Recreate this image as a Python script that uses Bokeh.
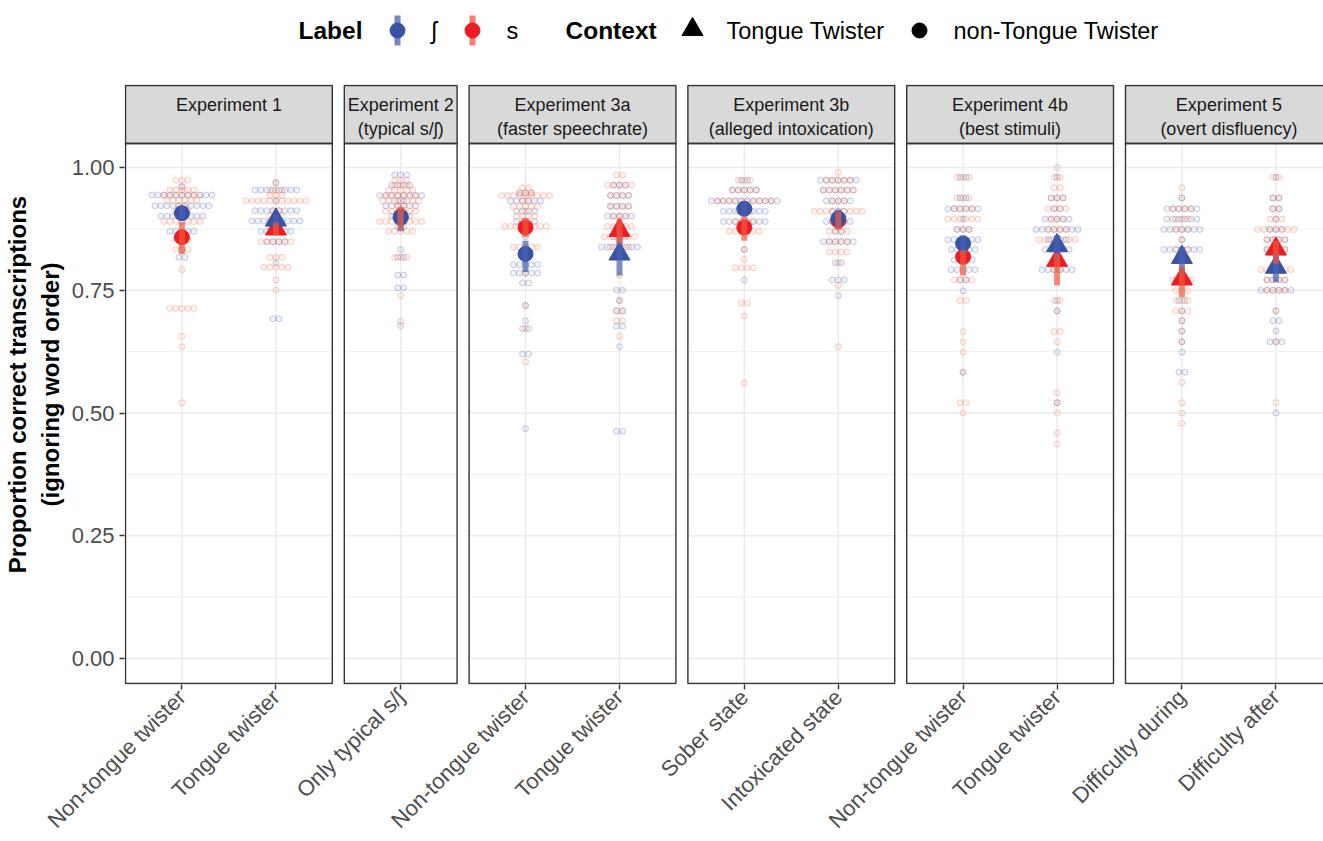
import numpy as np
from bokeh.plotting import figure
from bokeh.models import Range1d, FixedTicker, NumeralTickFormatter
from bokeh.layouts import column
from bokeh.embed import file_html
from bokeh.resources import INLINE
from bokeh.core.properties import value

FONT = "Liberation Sans"

# ---------------- data ----------------
PANELS = ["Experiment 1", "Experiment 2\n(typical s/ʃ)", "Experiment 3a\n(faster speechrate)",
          "Experiment 3b\n(alleged intoxication)", "Experiment 4b\n(best stimuli)",
          "Experiment 5\n(overt disfluency)"]
PANEL_CATS = [["Non-tongue twister", "Tongue twister"], ["Only typical s/ʃ"],
              ["Non-tongue twister", "Tongue twister"], ["Sober state", "Intoxicated state"],
              ["Non-tongue twister", "Tongue twister"], ["Difficulty during", "Difficulty after"]]
# context of each category: True = tongue twister (triangle), False = circle
PANEL_TT = [[False, True], [False], [False, True], [False, False], [False, True], [True, True]]

LABEL_NAMES = ["ʃ", "s"]
CONTEXT_NAMES = ["Tongue Twister", "non-Tongue Twister"]

# summary means and intervals, label ʃ
MEAN_SH = [[0.907, 0.893], [0.898], [0.824, 0.824], [0.916, 0.896], [0.845, 0.841], [0.817, 0.797]]
LO_SH = [[0.895, 0.880], [0.870], [0.787, 0.780], [0.900, 0.876], [0.825, 0.811], [0.784, 0.767]]
HI_SH = [[0.920, 0.905], [0.917], [0.851, 0.858], [0.930, 0.914], [0.862, 0.862], [0.838, 0.825]]
# label s
MEAN_S = [[0.858, 0.875], [0.900], [0.878, 0.872], [0.878, 0.892], [0.818, 0.811], [0.773, 0.834]]
LO_S = [[0.824, 0.862], [0.875], [0.858, 0.845], [0.851, 0.873], [0.780, 0.760], [0.736, 0.804]]
HI_S = [[0.889, 0.888], [0.920], [0.897, 0.895], [0.899, 0.910], [0.831, 0.825], [0.797, 0.851]]

# participant dots: (proportion, count ʃ, count s)
E1_NTT = [(0.974, 0, 3), (0.961, 1, 1), (0.954, 0, 5), (0.944, 11, 7), (0.933, 0, 6), (0.922, 10, 2),
          (0.912, 0, 3), (0.901, 8, 2), (0.890, 0, 7), (0.870, 5, 0), (0.854, 0, 3), (0.833, 1, 3),
          (0.817, 2, 0), (0.792, 0, 1), (0.713, 0, 5), (0.656, 0, 1), (0.635, 0, 1), (0.521, 0, 1)]
E1_TT = [(0.969, 1, 1), (0.954, 8, 3), (0.943, 0, 3), (0.932, 1, 11), (0.912, 8, 2), (0.901, 0, 3),
         (0.891, 9, 2), (0.870, 6, 2), (0.849, 4, 6), (0.817, 0, 3), (0.806, 1, 0), (0.797, 0, 5),
         (0.771, 0, 1), (0.750, 0, 1), (0.692, 2, 0)]
E2_TYP = [(0.985, 3, 0), (0.974, 0, 3), (0.964, 4, 3), (0.954, 0, 5), (0.943, 8, 6), (0.932, 2, 7),
          (0.922, 6, 2), (0.911, 0, 6), (0.901, 4, 2), (0.890, 2, 8), (0.880, 2, 0), (0.870, 0, 5),
          (0.833, 1, 0), (0.817, 2, 3), (0.781, 2, 0), (0.755, 2, 0), (0.739, 0, 1), (0.687, 0, 1),
          (0.678, 1, 0)]
E3A_NTT = [(0.959, 0, 2), (0.948, 3, 3), (0.943, 0, 9), (0.932, 6, 2), (0.921, 0, 5), (0.911, 4, 1),
           (0.901, 0, 4), (0.890, 4, 1), (0.880, 0, 8), (0.859, 1, 0), (0.838, 0, 5), (0.823, 2, 0),
           (0.802, 5, 0), (0.785, 5, 1), (0.765, 2, 0), (0.719, 1, 1), (0.688, 1, 0), (0.672, 2, 1),
           (0.620, 2, 0), (0.604, 0, 1), (0.468, 1, 0)]
E3A_TT = [(0.985, 0, 2), (0.964, 3, 5), (0.943, 4, 4), (0.921, 4, 4), (0.901, 5, 3), (0.880, 2, 5),
          (0.859, 3, 6), (0.838, 7, 4), (0.817, 2, 0), (0.780, 0, 1), (0.750, 2, 0), (0.729, 1, 1),
          (0.708, 2, 2), (0.688, 0, 2), (0.677, 2, 0), (0.656, 0, 1), (0.635, 1, 0), (0.463, 2, 0)]
E3B_SOB = [(0.974, 2, 3), (0.954, 5, 5), (0.932, 12, 10), (0.911, 8, 3), (0.890, 8, 4), (0.870, 2, 6),
           (0.833, 1, 1), (0.813, 0, 1), (0.796, 0, 4), (0.771, 1, 0), (0.724, 0, 2), (0.698, 0, 1),
           (0.561, 0, 1)]
E3B_INT = [(0.990, 0, 1), (0.974, 7, 5), (0.954, 6, 6), (0.932, 5, 3), (0.911, 3, 9), (0.890, 5, 3),
           (0.870, 2, 4), (0.849, 6, 4), (0.828, 0, 4), (0.806, 2, 1), (0.771, 3, 0), (0.760, 0, 1),
           (0.739, 1, 0), (0.635, 0, 1)]
E4B_NTT = [(0.980, 2, 3), (0.938, 2, 3), (0.916, 6, 4), (0.895, 1, 6), (0.874, 3, 3), (0.853, 6, 2),
           (0.833, 5, 1), (0.812, 4, 1), (0.792, 5, 0), (0.771, 2, 4), (0.749, 1, 0), (0.729, 0, 2),
           (0.666, 0, 1), (0.645, 0, 1), (0.624, 0, 1), (0.583, 1, 1), (0.521, 0, 2), (0.500, 0, 1)]
E4B_TT = [(1.000, 0, 1), (0.980, 1, 2), (0.959, 0, 2), (0.938, 3, 3), (0.916, 2, 4), (0.895, 5, 3),
          (0.874, 8, 4), (0.853, 4, 7), (0.833, 5, 0), (0.792, 6, 2), (0.729, 1, 2), (0.708, 1, 1),
          (0.666, 0, 2), (0.645, 0, 1), (0.624, 1, 0), (0.541, 0, 1), (0.521, 1, 1), (0.500, 0, 1),
          (0.459, 0, 1), (0.437, 0, 1)]
E5_DUR = [(0.959, 0, 1), (0.938, 1, 1), (0.916, 6, 4), (0.895, 6, 3), (0.874, 7, 3), (0.853, 1, 1),
          (0.833, 7, 3), (0.812, 0, 2), (0.792, 0, 1), (0.771, 3, 4), (0.749, 0, 3), (0.729, 2, 3),
          (0.708, 1, 3), (0.688, 1, 1), (0.667, 1, 1), (0.645, 1, 1), (0.624, 1, 0), (0.583, 2, 0),
          (0.562, 0, 1), (0.521, 0, 1), (0.500, 0, 1), (0.479, 0, 1)]
E5_AFT = [(0.980, 1, 2), (0.938, 2, 2), (0.916, 2, 2), (0.895, 1, 3), (0.874, 3, 7), (0.853, 4, 4),
          (0.833, 4, 4), (0.792, 2, 6), (0.771, 4, 4), (0.750, 6, 4), (0.708, 1, 1), (0.688, 2, 0),
          (0.667, 1, 0), (0.645, 3, 1), (0.521, 0, 1), (0.500, 1, 0)]
DOT_ROWS = [[E1_NTT, E1_TT], [E2_TYP], [E3A_NTT, E3A_TT], [E3B_SOB, E3B_INT],
            [E4B_NTT, E4B_TT], [E5_DUR, E5_AFT]]

Y_TICKS = [0.0, 0.25, 0.5, 0.75, 1.0]
Y_MINOR = [0.125, 0.375, 0.625, 0.875]

# ---------------- styling / layout ----------------
BLUE = "#3953a4"
RED = "#ed1c24"
BLUE_BAR = "#4a5fb0"
RED_BAR = "#f05a3c"
BLUE_DOT = "#4659ab"
RED_DOT = "#f26b45"
GRID = "#ebebeb"
DARK = "#333333"

PX = 94.0                 # pixels per category unit
GAP = 12 / PX
LEFT_BORDER = 124
FRAME_W = 1199
PANEL_H = 540
STRIP_H = 58
Y_LO, Y_HI = -0.0509, 1.0489
YPX = PANEL_H / (Y_HI - Y_LO)
STRIP_TOP = Y_HI + STRIP_H / YPX
DOT_STEP = 6.0 / PX

main = figure(frame_width=FRAME_W, frame_height=PANEL_H + STRIP_H + 2,
              x_range=Range1d(-1 / PX, (FRAME_W - 1) / PX),
              y_range=Range1d(Y_LO - 1 / YPX, STRIP_TOP + 1 / YPX),
              output_backend="svg", toolbar_location=None,
              min_border_left=LEFT_BORDER, min_border_right=0, min_border_top=0, min_border_bottom=0,
              outline_line_color=None, background_fill_color="white", border_fill_color="white")
main.xgrid.visible = False
main.ygrid.visible = False

# panel geometry
starts, centers, labels = [], [], []
pos = 0.0
for cats in PANEL_CATS:
    starts.append(pos)
    centers.append([pos + 0.6 + j for j in range(len(cats))])
    labels.extend(cats)
    pos += len(cats) + 0.2 + GAP
lefts = starts
rights = [s + len(c) + 0.2 for s, c in zip(starts, PANEL_CATS)]

# grid lines
gx0, gx1, gy = [], [], []
mx0, mx1, my = [], [], []
vx = []
for l, r, cs in zip(lefts, rights, centers):
    for t in Y_TICKS:
        gx0.append(l); gx1.append(r); gy.append(t)
    for t in Y_MINOR:
        mx0.append(l); mx1.append(r); my.append(t)
    vx.extend(cs)
main.segment(x0=mx0, x1=mx1, y0=my, y1=my, line_color=GRID, line_width=0.8)
main.segment(x0=gx0, x1=gx1, y0=gy, y1=gy, line_color=GRID, line_width=1.5)
main.segment(x0=vx, x1=vx, y0=[Y_LO] * len(vx), y1=[Y_HI] * len(vx), line_color=GRID, line_width=1.5)

# participant dots
bx, by, rx, ry = [], [], [], []
for k, cats in enumerate(PANEL_CATS):
    for j in range(len(cats)):
        cx = centers[k][j]
        for (yv, nsh, ns) in DOT_ROWS[k][j]:
            for cnt, xs, ys in ((nsh, bx, by), (ns, rx, ry)):
                offs = (np.arange(cnt) - (cnt - 1) / 2.0) * DOT_STEP
                xs.extend((cx + offs).tolist())
                ys.extend([yv] * cnt)
main.scatter(x=bx, y=by, size=6, marker="circle", fill_color=BLUE_DOT, fill_alpha=0.08,
             line_color=BLUE_DOT, line_alpha=0.28, line_width=1)
main.scatter(x=rx, y=ry, size=6, marker="circle", fill_color=RED_DOT, fill_alpha=0.08,
             line_color=RED_DOT, line_alpha=0.3, line_width=1)

# summary points
flat_c = [c for cs in centers for c in cs]
flat_tt = [t for ts in PANEL_TT for t in ts]
def flat(a):
    return [v for vs in a for v in vs]
m_sh, lo_sh, hi_sh = flat(MEAN_SH), flat(LO_SH), flat(HI_SH)
m_s, lo_s, hi_s = flat(MEAN_S), flat(LO_S), flat(HI_S)
for mean, color in ((m_s, RED), (m_sh, BLUE)):
    cx_c = [c for c, t in zip(flat_c, flat_tt) if not t]
    cy_c = [v for v, t in zip(mean, flat_tt) if not t]
    cx_t = [c for c, t in zip(flat_c, flat_tt) if t]
    cy_t = [v for v, t in zip(mean, flat_tt) if t]
    main.scatter(x=cx_c, y=cy_c, marker="circle", size=15, fill_color=color, line_color=color, line_width=1)
    main.scatter(x=cx_t, y=cy_t, marker="triangle", size=21, fill_color=color, line_color=color, line_width=1)
main.segment(x0=flat_c, x1=flat_c, y0=lo_sh, y1=hi_sh, line_color=BLUE_BAR, line_width=6, line_alpha=0.7)
main.segment(x0=flat_c, x1=flat_c, y0=lo_s, y1=hi_s, line_color=RED_BAR, line_width=6, line_alpha=0.7)

# panel borders and strips
main.quad(left=lefts, right=rights, bottom=[Y_HI] * 6, top=[STRIP_TOP] * 6,
          fill_color="#d9d9d9", line_color=DARK, line_width=1.4)
main.quad(left=lefts, right=rights, bottom=[Y_LO] * 6, top=[Y_HI] * 6,
          fill_color=None, line_color=DARK, line_width=1.4)
mids = [(l + r) / 2 for l, r in zip(lefts, rights)]
main.text(x=mids, y=[STRIP_TOP - 9 / YPX] * 6, text=PANELS, text_align="center",
          text_baseline="top", text_font=value(FONT), text_font_size="18px", text_color="#1a1a1a",
          text_line_height=1.2)

# axes
xa = main.xaxis[0]
xa.ticker = FixedTicker(ticks=flat_c)
xa.major_label_overrides = {c: lab for c, lab in zip(flat_c, labels)}
xa.major_label_orientation = np.pi / 4
xa.axis_line_color = None
xa.major_tick_line_color = DARK
xa.major_tick_line_width = 1.4
xa.major_tick_out = 5
xa.major_tick_in = 0
xa.minor_tick_line_color = None
xa.major_label_text_font = FONT
xa.major_label_text_font_size = "22px"
xa.major_label_text_color = "#4d4d4d"
xa.major_label_standoff = 4

ya = main.yaxis[0]
ya.ticker = FixedTicker(ticks=Y_TICKS)
ya.formatter = NumeralTickFormatter(format="0.00")
ya.axis_line_color = None
ya.major_tick_line_color = DARK
ya.major_tick_line_width = 1.4
ya.major_tick_out = 5
ya.major_tick_in = 0
ya.minor_tick_line_color = None
ya.major_label_text_font = FONT
ya.major_label_text_font_size = "22px"
ya.major_label_text_color = "#4d4d4d"
ya.major_label_standoff = 5
ya.axis_label = "Proportion correct transcriptions\n(ignoring word order)"
ya.axis_label_text_font = FONT
ya.axis_label_text_font_size = "24px"
ya.axis_label_text_font_style = "bold"
ya.axis_label_text_color = "black"
ya.axis_label_standoff = 5

# ---------------- legend (drawn as a strip above the panels, pixel ranges) ----------------
LEG_H = 84
leg = figure(frame_width=FRAME_W, frame_height=LEG_H,
             x_range=Range1d(LEFT_BORDER, LEFT_BORDER + FRAME_W), y_range=Range1d(LEG_H, 0),
             output_backend="svg", toolbar_location=None,
             min_border_left=LEFT_BORDER, min_border_right=0, min_border_top=0, min_border_bottom=0,
             outline_line_color=None, background_fill_color="white", border_fill_color="white")
leg.axis.visible = False
leg.grid.visible = False

LEG_Y = 30                                     # vertical centre of the legend row (px from top)
TITLE_X = [298, 565]                           # "Label", "Context"
KEY_X_LABEL = [397, 472]                       # keys for ʃ, s
KEY_X_CONTEXT = [692, 919]                     # keys for Tongue Twister, non-Tongue Twister
TEXT_DX = 34                                   # key centre -> label start

leg.text(x=TITLE_X, y=[LEG_Y] * 2, text=["Label", "Context"], text_font=value(FONT),
         text_font_size="24.5px", text_font_style="bold", text_color="black",
         text_baseline="middle", text_align="left")
leg.text(x=[k + TEXT_DX for k in KEY_X_LABEL + KEY_X_CONTEXT], y=[LEG_Y] * 4,
         text=LABEL_NAMES + CONTEXT_NAMES, text_font=value(FONT), text_font_size="23.5px",
         text_color="black", text_baseline="middle", text_align="left")
leg.segment(x0=KEY_X_LABEL, x1=KEY_X_LABEL, y0=[LEG_Y - 15] * 2, y1=[LEG_Y + 15] * 2,
            line_color=[BLUE_BAR, RED_BAR], line_width=6, line_alpha=0.75)
leg.scatter(x=KEY_X_LABEL, y=[LEG_Y] * 2, marker="circle", size=15,
            fill_color=[BLUE, RED], line_color=[BLUE, RED])
leg.scatter(x=KEY_X_CONTEXT[:1], y=[LEG_Y - 1], marker="triangle", size=21,
            fill_color="black", line_color="black")
leg.scatter(x=KEY_X_CONTEXT[1:], y=[LEG_Y], marker="circle", size=15,
            fill_color="black", line_color="black")

layout = column(leg, main, spacing=0)
open("out.html", "w").write(file_html(layout, INLINE))
